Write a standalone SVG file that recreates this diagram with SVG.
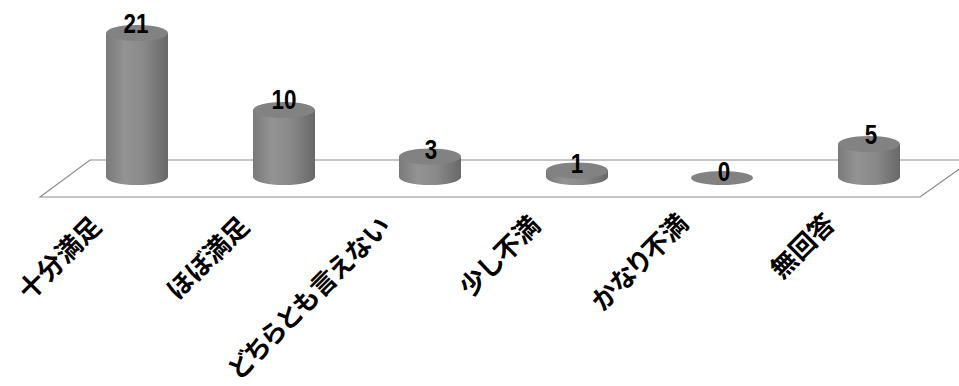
<svg xmlns="http://www.w3.org/2000/svg" width="959" height="386" viewBox="0 0 959 386">
<defs>
<linearGradient id="cyl" x1="0" y1="0" x2="1" y2="0">
<stop offset="0" stop-color="#7a7a7a"/>
<stop offset="0.3" stop-color="#939393"/>
<stop offset="0.6" stop-color="#8a8a8a"/>
<stop offset="1" stop-color="#686868"/>
</linearGradient>
<style>
.body{fill:url(#cyl);}
.top{fill:#828282;}
.floor{fill:#ffffff;stroke:#8c8c8c;stroke-width:1.2;}
.val{font-family:"Liberation Sans",Arial,sans-serif;font-weight:bold;font-size:28px;fill:#000;text-anchor:middle;}
.cat{font-family:"Noto Sans CJK JP",sans-serif;font-weight:bold;font-size:26px;fill:#000;text-anchor:end;font-feature-settings:"palt";}
</style>
</defs>
<rect width="959" height="386" fill="#ffffff"/>
<g id="floor">
<polygon class="floor" points="40,197 90,160 972,160 920,197"/>
</g>
<g id="bar1">
<path class="body" d="M106,33 L106,177 A31,8 0 0 0 168,177 L168,33 Z"/>
<ellipse class="top" cx="137" cy="33" rx="31" ry="8"/>
<text class="val" transform="translate(136,33) scale(0.8,1)">21</text>
<text class="cat" transform="translate(103,228) rotate(-45)">十分満足</text>
</g>
<g id="bar2">
<path class="body" d="M253,110 L253,177 A31,8 0 0 0 315,177 L315,110 Z"/>
<ellipse class="top" cx="284" cy="110" rx="31" ry="8"/>
<text class="val" transform="translate(284,109) scale(0.8,1)">10</text>
<text class="cat" transform="translate(251,228) rotate(-45)">ほぼ満足</text>
</g>
<g id="bar3">
<path class="body" d="M399,156.5 L399,177 A31,8 0 0 0 461,177 L461,156.5 Z"/>
<ellipse class="top" cx="430" cy="156.5" rx="31" ry="8"/>
<text class="val" transform="translate(431,159) scale(0.8,1)">3</text>
<text class="cat" transform="translate(392,228) rotate(-45)">どちらとも言えない</text>
</g>
<g id="bar4">
<path class="body" d="M546,170.5 L546,177 A31,8 0 0 0 608,177 L608,170.5 Z"/>
<ellipse class="top" cx="577" cy="170.5" rx="31" ry="8"/>
<text class="val" transform="translate(577,173) scale(0.8,1)">1</text>
<text class="cat" transform="translate(542,227) rotate(-45)">少し不満</text>
</g>
<g id="bar5">
<ellipse class="top" cx="722" cy="178" rx="31" ry="7"/>
<text class="val" transform="translate(724,181) scale(0.8,1)">0</text>
<text class="cat" transform="translate(690,225) rotate(-45)">かなり不満</text>
</g>
<g id="bar6">
<path class="body" d="M838,144 L838,177 A31,8 0 0 0 900,177 L900,144 Z"/>
<ellipse class="top" cx="869" cy="144" rx="31" ry="8"/>
<text class="val" transform="translate(871,144) scale(0.8,1)">5</text>
<text class="cat" transform="translate(837,225) rotate(-45)">無回答</text>
</g>
</svg>
